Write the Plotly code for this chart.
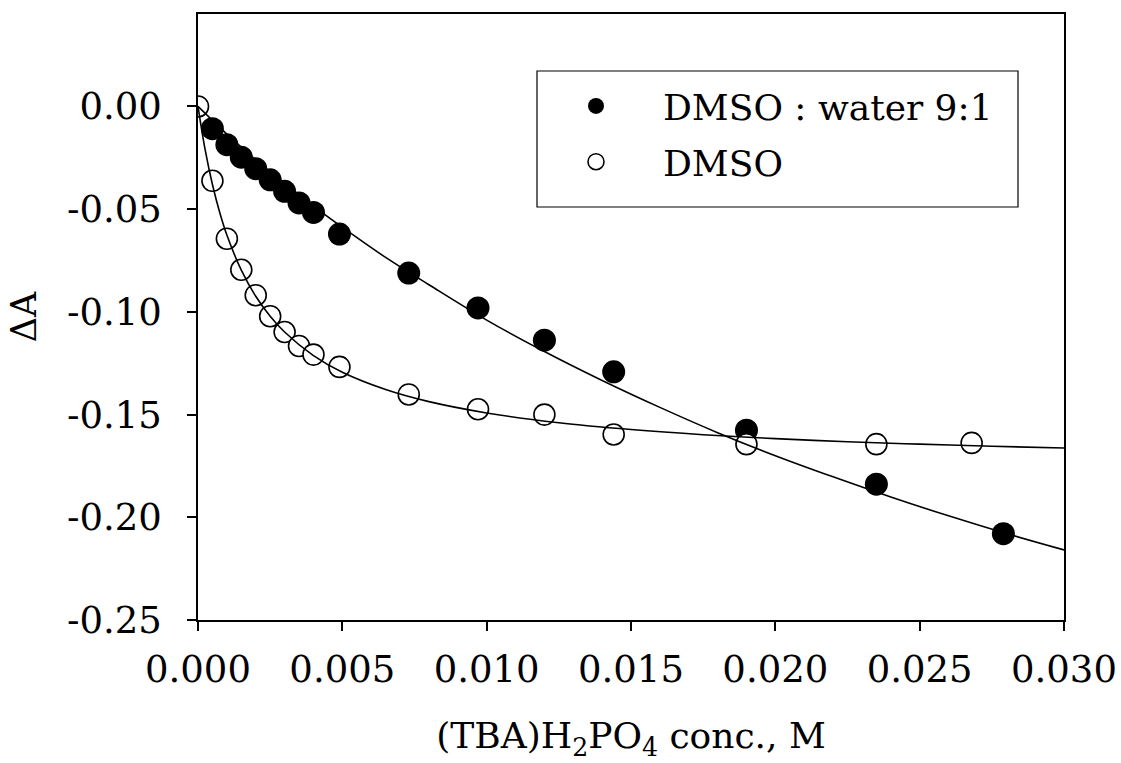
import plotly.graph_objects as go

# Data
x_water = [0.0005, 0.0010, 0.0015, 0.0020, 0.0025, 0.0030, 0.0035, 0.0040, 0.0049,
           0.0073, 0.0097, 0.0120, 0.0144, 0.0190, 0.0235, 0.0279]
y_water = [-0.0108, -0.0186, -0.0247, -0.0303, -0.0357, -0.0413, -0.0470, -0.0516, -0.0621,
           -0.0811, -0.0981, -0.1138, -0.1292, -0.1576, -0.1839, -0.2080]

x_dmso = [0.0000, 0.0005, 0.0010, 0.0015, 0.0020, 0.0025, 0.0030, 0.0035, 0.0040, 0.0049,
          0.0073, 0.0097, 0.0120, 0.0144, 0.0190, 0.0235, 0.0268]
y_dmso = [0.0000, -0.0362, -0.0644, -0.0795, -0.0919, -0.1021, -0.1098, -0.1166, -0.1208, -0.1268,
          -0.1402, -0.1474, -0.1500, -0.1597, -0.1644, -0.1644, -0.1638]

# Fitted curves
fit_x_water = [0.000, 0.001, 0.002, 0.003, 0.004, 0.005, 0.0065, 0.008, 0.010, 0.012, 0.014,
               0.016, 0.018, 0.020, 0.022, 0.024, 0.026, 0.028, 0.030]
fit_y_water = [0.0, -0.0135, -0.0260, -0.0375, -0.0485, -0.0588, -0.0735, -0.0868, -0.1040,
               -0.1193, -0.1334, -0.1465, -0.1588, -0.1700, -0.1803, -0.1901, -0.1993, -0.2079, -0.2159]

fit_x_dmso = [0.0, 0.00025, 0.0005, 0.00075, 0.001, 0.0015, 0.002, 0.0025, 0.003, 0.004, 0.005,
              0.0065, 0.008, 0.010, 0.0125, 0.015, 0.0175, 0.020, 0.0225, 0.025, 0.0275, 0.030]
fit_y_dmso = [0.0, -0.0213, -0.0380, -0.0515, -0.0626, -0.0797, -0.0924, -0.1021, -0.1098,
              -0.1213, -0.1294, -0.1378, -0.1437, -0.1492, -0.1540, -0.1573, -0.1598, -0.1617,
              -0.1632, -0.1644, -0.1654, -0.1663]

x_tickvals = [0.000, 0.005, 0.010, 0.015, 0.020, 0.025, 0.030]
x_ticktext = ["0.000", "0.005", "0.010", "0.015", "0.020", "0.025", "0.030"]
y_tickvals = [0.00, -0.05, -0.10, -0.15, -0.20, -0.25]
y_ticktext = ["0.00", "-0.05", "-0.10", "-0.15", "-0.20", "-0.25"]

FONT = "DejaVu Serif"

# plot area in pixels (for converting the legend frame to paper coordinates)
PL, PR, PT, PB = 198, 1064, 14, 620
W, H = 1121, 763


def px_x(p):
    return (p - PL) / (PR - PL)


def px_y(p):
    return (PB - p) / (PB - PT)


fig = go.Figure()
fig.add_trace(go.Scatter(
    x=x_water, y=y_water, mode="markers", name="DMSO : water 9:1",
    marker=dict(size=23, color="black", line=dict(width=0)),
    legendgroup="a"))
fig.add_trace(go.Scatter(
    x=x_dmso, y=y_dmso, mode="markers", name="DMSO",
    marker=dict(size=21, color="white", line=dict(width=1.6, color="black")),
    legendgroup="b"))
fig.add_trace(go.Scatter(
    x=fit_x_water, y=fit_y_water, mode="lines", line=dict(color="black", width=1.6, shape="spline"),
    showlegend=False, hoverinfo="skip"))
fig.add_trace(go.Scatter(
    x=fit_x_dmso, y=fit_y_dmso, mode="lines", line=dict(color="black", width=1.6, shape="spline"),
    showlegend=False, hoverinfo="skip"))

fig.update_layout(
    width=W, height=H,
    margin=dict(l=PL, r=W - PR, t=PT, b=H - PB, autoexpand=False),
    paper_bgcolor="white", plot_bgcolor="white",
    font=dict(family=FONT, color="black"),
    showlegend=True,
    legend=dict(
        x=px_x(529), y=px_y(76), xanchor="left", yanchor="top",
        borderwidth=0, bgcolor="rgba(0,0,0,0)",
        font=dict(family=FONT, size=36, color="black"),
        itemwidth=124, tracegroupgap=6,
        itemsizing="trace",
    ),
    shapes=[dict(
        type="rect", xref="paper", yref="paper",
        x0=px_x(537), x1=px_x(1018), y0=px_y(207), y1=px_y(71),
        line=dict(color="black", width=1.2), fillcolor="rgba(0,0,0,0)", layer="above",
    )],
)

fig.update_xaxes(
    range=[0, 0.030], tickmode="array", tickvals=x_tickvals, ticktext=x_ticktext,
    showline=True, linecolor="black", linewidth=1.5, mirror=True,
    ticks="outside", ticklen=9, tickwidth=1.5, tickcolor="black",
    showgrid=False, zeroline=False,
    tickfont=dict(family=FONT, size=37, color="black"),
    ticklabelstandoff=7,
    title=dict(text="(TBA)H<sub>2</sub>PO<sub>4</sub> conc., M",
               font=dict(family=FONT, size=36, color="black"), standoff=33),
)
fig.update_yaxes(
    range=[-0.25, 0.045], tickmode="array", tickvals=y_tickvals, ticktext=y_ticktext,
    showline=True, linecolor="black", linewidth=1.5, mirror=True,
    ticks="outside", ticklen=9, tickwidth=1.5, tickcolor="black",
    showgrid=False, zeroline=False,
    tickfont=dict(family=FONT, size=37, color="black"),
    ticklabelstandoff=18,
    title=dict(text="ΔA", font=dict(family=FONT, size=35, color="black"), standoff=20),
)

fig.write_html("out.html")
